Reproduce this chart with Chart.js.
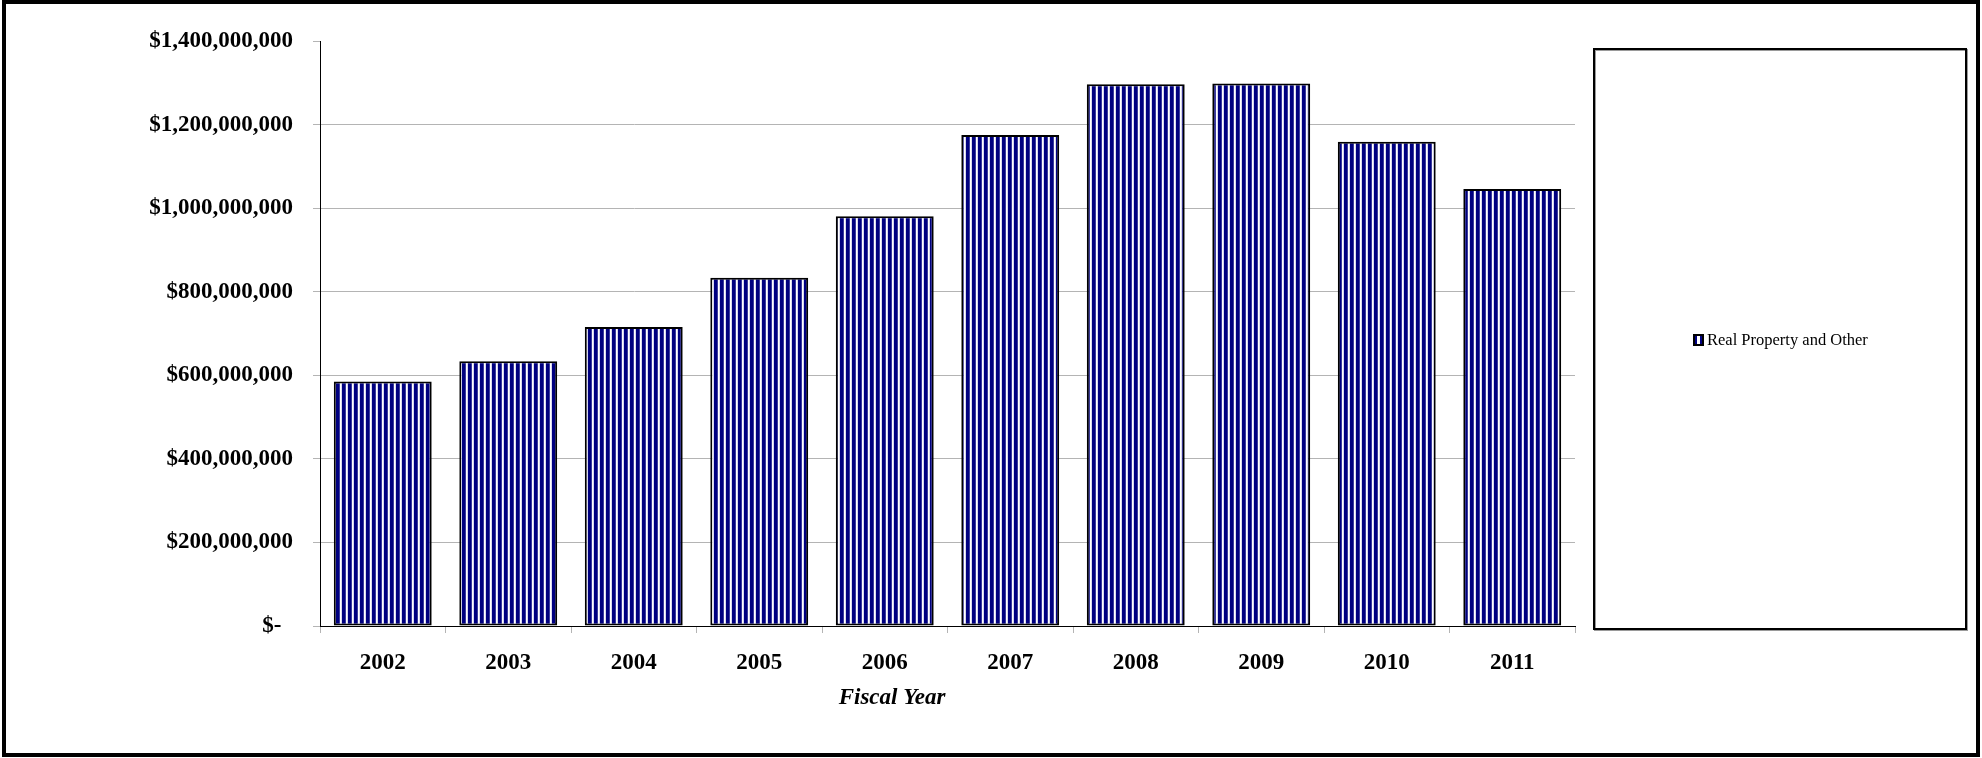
<!DOCTYPE html>
<html>
<head>
<meta charset="utf-8">
<script src="https://cdn.jsdelivr.net/npm/chart.js"></script>
<style>
  html, body { margin: 0; padding: 0; background: #fff; }
  canvas { display: block; }
</style>
</head>
<body>
<canvas id="chart" width="1982" height="758"></canvas>
<script>
// data
const fiscalYears = ['2002', '2003', '2004', '2005', '2006', '2007', '2008', '2009', '2010', '2011'];
const realPropertyAndOther = [585000000, 633500000, 715500000, 833500000, 980500000, 1175000000, 1296500000, 1298000000, 1159000000, 1046000000];
const yTickValues = [0, 200000000, 400000000, 600000000, 800000000, 1000000000, 1200000000, 1400000000];
const yTickLabels = ['$-  ', '$200,000,000', '$400,000,000', '$600,000,000', '$800,000,000', '$1,000,000,000', '$1,200,000,000', '$1,400,000,000'];
const seriesName = 'Real Property and Other';
const xAxisTitle = 'Fiscal Year';

const SERIF = '"Liberation Serif", "Times New Roman", serif';
const NAVY = '#000080';
const GRID = '#b4b4b4';

// vertical stripe fill, like the excel pattern
function stripePattern(ctx) {
    const tile = document.createElement('canvas');
    tile.width = 6;
    tile.height = 6;
    const t = tile.getContext('2d');
    t.fillStyle = '#ffffff';
    t.fillRect(0, 0, 6, 6);
    t.fillStyle = NAVY;
    t.fillRect(0, 0, 3, 6);
    t.fillStyle = '#3c3c9c';
    t.fillRect(3, 0, 1, 6);
    t.fillStyle = '#d6d6ee';
    t.fillRect(5, 0, 1, 6);
    return ctx.createPattern(tile, 'repeat');
}

// outer frame, legend box and the axis title
const framePlugin = {
    id: 'frame',
    afterDraw(chart) {
        const ctx = chart.ctx;
        const area = chart.chartArea;
        ctx.save();

        // legend box
        const boxL = area.right + 19;
        const boxT = area.top + 8;
        const boxR = chart.width - 16;
        const boxB = area.bottom + 3;
        ctx.strokeStyle = '#9a9a9a';
        ctx.lineWidth = 2;
        ctx.strokeRect(boxL + 1, boxT + 1, boxR - boxL, boxB - boxT);
        ctx.strokeStyle = '#000';
        ctx.strokeRect(boxL, boxT, boxR - boxL, boxB - boxT);

        // legend item
        ctx.font = '16.5px ' + SERIF;
        const tw = ctx.measureText(seriesName).width;
        const itemW = 11 + 3 + tw;
        const cx = (boxL + boxR) / 2;
        const cy = (boxT + boxB) / 2 + 1;
        const mx = Math.round(cx - itemW / 2);
        const my = Math.round(cy - 6);
        ctx.fillStyle = '#000';
        ctx.fillRect(mx, my, 11, 12);
        ctx.fillStyle = NAVY;
        ctx.fillRect(mx + 2, my + 2, 7, 8);
        ctx.fillStyle = '#ffffff';
        ctx.fillRect(mx + 4, my + 2, 3, 8);
        ctx.fillStyle = '#000';
        ctx.textAlign = 'left';
        ctx.textBaseline = 'middle';
        ctx.fillText(seriesName, mx + 14, cy + 1);

        // x axis title, excel puts it left of the plot centre
        ctx.font = 'bold italic 23px ' + SERIF;
        ctx.textAlign = 'center';
        ctx.fillText(xAxisTitle, 892, area.bottom + 72);

        // chart border
        ctx.strokeStyle = '#000';
        ctx.lineWidth = 4;
        ctx.strokeRect(4, 2, chart.width - 8, chart.height - 5);
        ctx.restore();
    }
};

const canvas = document.getElementById('chart');
const ctx = canvas.getContext('2d');

new Chart(ctx, {
    type: 'bar',
    data: {
        labels: fiscalYears,
        datasets: [{
            label: seriesName,
            data: realPropertyAndOther,
            backgroundColor: stripePattern(ctx),
            borderColor: '#000',
            borderWidth: 2,
            borderSkipped: false,
            categoryPercentage: 1,
            barPercentage: 0.78
        }]
    },
    options: {
        responsive: false,
        animation: false,
        devicePixelRatio: 1,
        layout: {
            padding: { left: 10, top: 41, right: 407, bottom: 0 }
        },
        plugins: {
            legend: { display: false },
            tooltip: { enabled: false }
        },
        scales: {
            x: {
                afterFit: s => { s.height = 132; },
                grid: {
                    drawOnChartArea: false,
                    color: GRID,
                    tickLength: 7
                },
                border: { color: '#000', width: 1 },
                ticks: {
                    color: '#000',
                    padding: 16,
                    font: { family: SERIF, size: 23, weight: 'bold' }
                }
            },
            y: {
                min: 0,
                max: 1400000000,
                afterFit: s => { s.width = 310; },
                afterBuildTicks: s => { s.ticks = yTickValues.map(v => ({ value: v })); },
                grid: {
                    color: c => (c.tick && c.tick.value === 1400000000) ? 'rgba(0,0,0,0)' : GRID,
                    tickColor: GRID,
                    tickLength: 7
                },
                border: { color: '#000', width: 1 },
                ticks: {
                    color: '#000',
                    padding: 20,
                    font: { family: SERIF, size: 23, weight: 'bold' },
                    callback: (v, i) => yTickLabels[i]
                }
            }
        }
    },
    plugins: [framePlugin]
});
</script>
</body>
</html>
